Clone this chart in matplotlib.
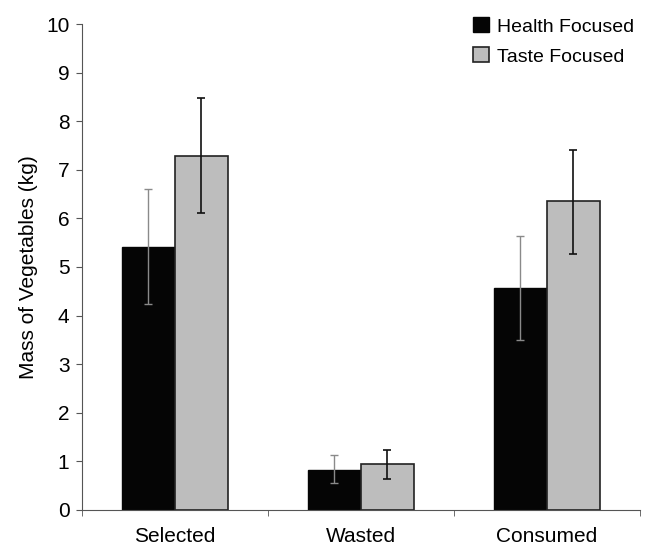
import matplotlib
matplotlib.use("Agg")
import matplotlib.pyplot as plt
import numpy as np

plt.rcParams['font.family'] = ['Liberation Sans', 'DejaVu Sans']

categories = ['Selected', 'Wasted', 'Consumed']
health = [5.42, 0.83, 4.57]
health_lo = [4.23, 0.55, 3.50]
health_hi = [6.60, 1.14, 5.63]
taste = [7.29, 0.94, 6.35]
taste_lo = [6.11, 0.64, 5.27]
taste_hi = [8.48, 1.24, 7.41]

x = np.arange(len(categories))
w = 0.285

fig = plt.figure(figsize=(6.45, 5.46), dpi=100)
ax = fig.add_axes([0.127, 0.066, 0.865, 0.890])

h_err = [np.array(health) - np.array(health_lo), np.array(health_hi) - np.array(health)]
t_err = [np.array(taste) - np.array(taste_lo), np.array(taste_hi) - np.array(taste)]

ax.bar(x - w/2, health, w, color='#050505', edgecolor='#050505', linewidth=1,
       label='Health Focused')
ax.bar(x + w/2, taste, w, color='#bdbdbd', edgecolor='#222222', linewidth=1.2,
       label='Taste Focused')
ax.errorbar(x - w/2, health, yerr=h_err, fmt='none', ecolor='#8a8a8a',
            elinewidth=1, capsize=3, capthick=1)
ax.errorbar(x + w/2, taste, yerr=t_err, fmt='none', ecolor='#111111',
            elinewidth=1.2, capsize=3, capthick=1.2)

ax.set_xlim(-0.5, 2.5)
ax.set_ylim(0, 10)
ax.set_yticks(range(0, 11))
ax.set_xticks(x)
ax.set_xticklabels(categories, fontsize=15)
ax.set_xticks([-0.5, 0.5, 1.5, 2.5], minor=True)
ax.tick_params(axis='x', which='major', length=0, pad=12)
ax.tick_params(axis='x', which='minor', length=4, color='#555555')
ax.tick_params(axis='y', labelsize=15, length=4, color='#555555', pad=5)
ax.set_ylabel('Mass of Vegetables (kg)', fontsize=15, labelpad=6)

for s in ['top', 'right']:
    ax.spines[s].set_visible(False)
for s in ['left', 'bottom']:
    ax.spines[s].set_color('#555555')

ax.legend(loc='upper right', bbox_to_anchor=(1.003, 1.03), frameon=False, fontsize=14,
          handlelength=0.82, handleheight=0.82, handletextpad=0.4, labelspacing=0.6,
          borderaxespad=0)

fig.savefig('out.png', dpi=100)
